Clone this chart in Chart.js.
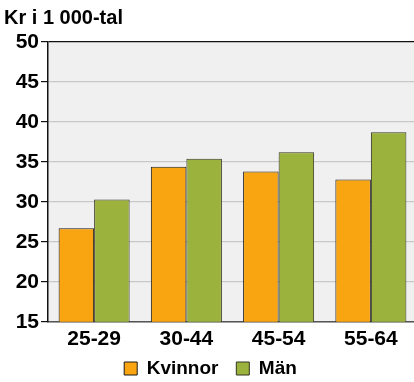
<!DOCTYPE html>
<html>
<head>
<meta charset="utf-8">
<script src="https://cdn.jsdelivr.net/npm/chart.js@4/dist/chart.umd.min.js"></script>
<style>
  html, body { margin: 0; padding: 0; background: #fff; overflow: hidden; }
  #wrap { width: 417px; height: 388px; }
</style>
</head>
<body>
<div id="wrap"><canvas id="chart1"></canvas></div>
<script>
// data
var age_groups = ["25-29", "30-44", "45-54", "55-64"];
var kvinnor = [26.7, 34.4, 33.8, 32.8];
var man = [30.3, 35.4, 36.2, 38.7];
var y_ticks = [15, 20, 25, 30, 35, 40, 45, 50];

var font = "'Liberation Sans', Arial, sans-serif";

// grey plot background
var plotBg = {
  id: 'plotBg',
  beforeDraw: function(chart) {
    var a = chart.chartArea, c = chart.ctx;
    c.save();
    c.fillStyle = '#f0f0f0';
    c.fillRect(a.left, a.top, a.right - a.left, a.bottom - a.top);
    c.restore();
  }
};

var ctx = document.getElementById("chart1").getContext('2d');
var myChart = new Chart(ctx, {
  type: 'bar',
  data: {
    labels: age_groups,
    datasets: [{
      label: 'Kvinnor',
      data: kvinnor,
      backgroundColor: '#f9a511',
      borderColor: '#1a1a1a',
      borderWidth: 1
    }, {
      label: 'Män',
      data: man,
      backgroundColor: '#9bb23c',
      borderColor: '#333322',
      borderWidth: 1
    }]
  },
  options: {
    responsive: true,
    maintainAspectRatio: false,
    animation: false,
    layout: { padding: { left: 4, right: 0, top: 0, bottom: 0 } },
    datasets: { bar: { barPercentage: 1, categoryPercentage: 0.77 } },
    plugins: {
      title: {
        display: true,
        text: 'Kr i 1 000-tal',
        align: 'start',
        color: '#000',
        font: { family: font, size: 20, weight: 'bold' },
        padding: { top: 6, bottom: 12 }
      },
      legend: {
        position: 'bottom',
        labels: {
          color: '#000',
          font: { family: font, size: 19, weight: 'bold' },
          boxWidth: 13,
          boxHeight: 13,
          padding: 2,
          generateLabels: function(chart) {
            var items = Chart.defaults.plugins.legend.labels.generateLabels(chart);
            items[0].text = items[0].text + '   ';
            return items;
          }
        }
      },
      tooltip: { enabled: false }
    },
    scales: {
      x: {
        grid: { display: false, drawTicks: false },
        border: { color: '#555', width: 1.5 },
        ticks: { color: '#000', font: { family: font, size: 21, weight: 'bold' }, padding: 5 }
      },
      y: {
        min: 15,
        max: 50,
        afterFit: function(axis) { axis.width = 44; },
        afterBuildTicks: function(axis) {
          axis.ticks = y_ticks.map(function(v) { return { value: v }; });
        },
        grid: {
          color: function(c) { return c.tick && c.tick.value === 50 ? '#111' : '#c8c8c8'; },
          tickColor: '#111',
          tickLength: 7,
          lineWidth: 1.2
        },
        border: { color: '#111', width: 1.5 },
        ticks: { color: '#000', font: { family: font, size: 21, weight: 'bold' }, padding: 2 }
      }
    }
  },
  plugins: [plotBg]
});
</script>
</body>
</html>
